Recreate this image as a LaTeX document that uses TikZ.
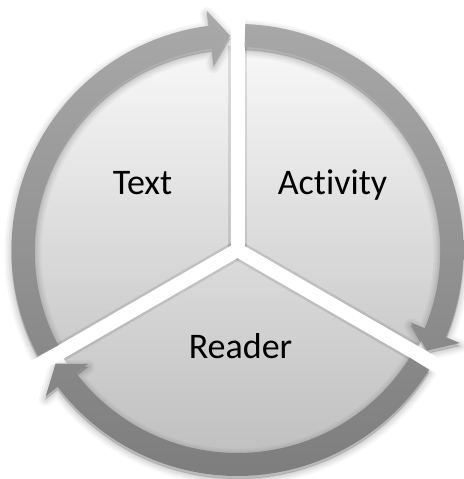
\documentclass[tikz,border=0pt]{standalone}
\usepackage{fontspec}
\setmainfont{Carlito}[Ligatures=NoCommon]
\definecolor{ringtop}{HTML}{A9A9A9}
\definecolor{ringbot}{HTML}{7D7D7D}
\definecolor{segtop}{HTML}{F8F8F8}
\definecolor{segbot}{HTML}{CACACA}
\definecolor{readtop}{HTML}{DCDCDC}
\definecolor{readmid}{HTML}{C1C1C1}
\definecolor{readbot}{HTML}{BCBCBC}
\tikzset{
  lbl/.style={anchor=base, font=\fontsize{36}{42}\selectfont, text=black, inner sep=0pt},
  gapshade/.style={line width=19, black, opacity=0.10},
  gapline/.style={line width=14, white},
}
% ring radii: inner, outer, centre line, arrowhead wings
\def\rin{203}\def\rout{226}\def\rmid{214.5}\def\hin{188}\def\hout{241}
\begin{document}
\begin{tikzpicture}[x=1pt,y=1pt]
\useasboundingbox (-237.5,250) rectangle (225.5,-229);
\coordinate (c) at (0,0);

% the three segments
\shade[top color=segtop, bottom color=segbot] (c) -- (90:205) arc[start angle=90, end angle=210, radius=205] -- cycle;
\shade[top color=segtop, bottom color=segbot] (c) -- (-30:205) arc[start angle=-30, end angle=90, radius=205] -- cycle;
\shade[top color=readtop, middle color=readmid, bottom color=readbot] (c) -- (210:205) arc[start angle=210, end angle=330, radius=205] -- cycle;

% soft edge shading along the gaps, kept inside the segments
\begin{scope}
  \clip (c) circle[radius=204];
  \foreach \a in {90,210,330}
    \draw[gapshade] (c) -- (\a:210);
  \fill[black, opacity=0.10] (c) circle[radius=9.5];
\end{scope}

% soft shadow of the arrow ring
\foreach \w/\o in {14/0.03, 10/0.04, 6/0.05, 2/0.06}
  \filldraw[black, opacity=\o, line width=\w, line join=round, yshift=-3]
    foreach \a/\b/\t in {208/97.3/92, 88/-22.7/-28, -32/-142.7/-148}
    { (\a:\rout) arc[start angle=\a, end angle=\b, radius=\rout] -- (\b:\hout) -- (\t:\rmid)
      -- (\b:\hin) -- (\b:\rin) arc[start angle=\b, end angle=\a, radius=\rin] -- cycle };

% white gaps between the segments
\foreach \a in {90,210,330}
  \draw[gapline] (c) -- (\a:252);
\fill[white] (c) circle[radius=7];

% the arrow ring, one shading over all three arrows
\shade[top color=ringtop, bottom color=ringbot]
  foreach \a/\b/\t in {208/97.3/92, 88/-22.7/-28, -32/-142.7/-148}
  { (\a:\rout) arc[start angle=\a, end angle=\b, radius=\rout] -- (\b:\hout) -- (\t:\rmid)
    -- (\b:\hin) -- (\b:\rin) arc[start angle=\b, end angle=\a, radius=\rin] -- cycle };

% labels
\node[lbl] (text) at (-95,55) {Text};
\node[lbl] (activity) at (95,55) {Activity};
\node[lbl] (reader) at (3,-108) {Reader};
\end{tikzpicture}
\end{document}
